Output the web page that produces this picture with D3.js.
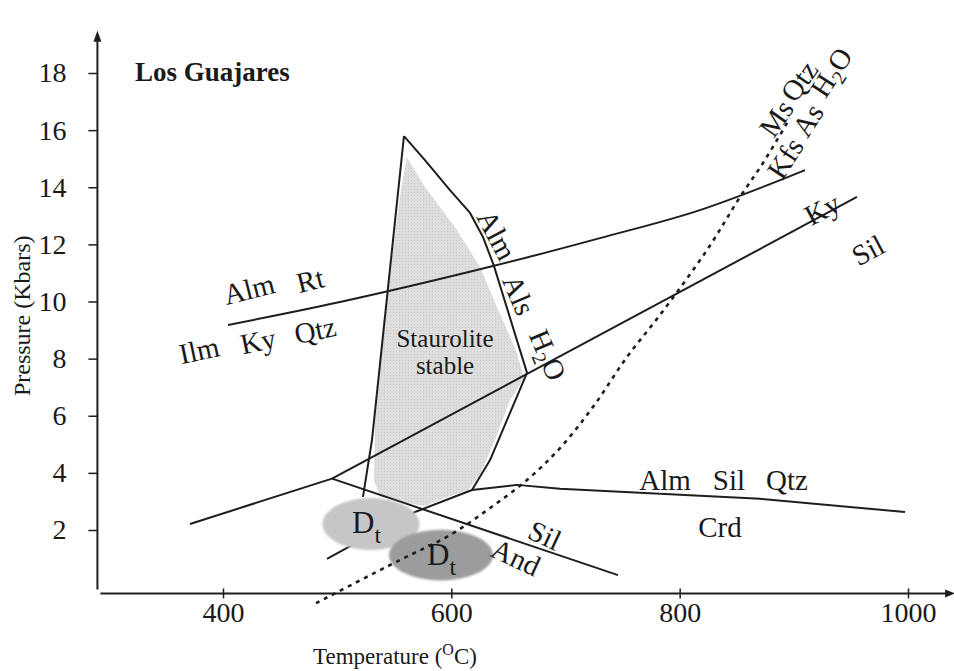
<!DOCTYPE html>
<html>
<head>
<meta charset="utf-8">
<script src="https://cdn.jsdelivr.net/npm/d3@7/dist/d3.min.js"></script>
<style>
  html, body { margin: 0; padding: 0; background: #fff; }
  svg { display: block; }
  text { font-family: "Liberation Serif", "Times New Roman", serif; fill: #1a1a1a; }
</style>
</head>
<body>
<svg id="chart" width="954" height="671"></svg>
<script>
// Axis ticks
const tempTicks = [400, 600, 800, 1000];
const pressureTicks = [2, 4, 6, 8, 10, 12, 14, 16, 18];

// Reaction curves, [T (°C), P (kbar)]
const almRtCurve = [[404.4, 9.18], [502.5, 9.98], [636.5, 11.24], [730.2, 12.22], [817.8, 13.20], [909.8, 14.60]];
const kyAndLine = [[371.1, 2.21], [495.5, 3.80]];
const kySilLine = [[495.5, 3.80], [955.3, 13.66]];
const andSilLine = [[495.5, 3.80], [746.0, 0.42]];
const stLeftLine = [[558.5, 15.79], [530.5, 5.15], [522.6, 3.16]];
const stRightLine = [[558.5, 15.79], [576.9, 14.95], [598.8, 13.90], [616.4, 13.10], [627.7, 12.26], [637.4, 11.24],
                     [666.3, 7.50], [651.4, 6.10], [633.9, 4.45], [618.1, 3.40]];
const crdLine = [[491.1, 0.99], [508.6, 1.37], [568.2, 2.63], [618.1, 3.40], [657.5, 3.58], [695.2, 3.44],
                 [765.2, 3.30], [870.4, 3.09], [997.4, 2.63]];
const msQtzLine = [[481.5, -0.56], [555.0, 0.95], [598.8, 1.82], [633.9, 2.77], [666.3, 3.75], [695.2, 4.87],
                   [724.1, 6.31], [753.9, 8.06], [782.8, 9.53], [823.9, 11.80], [852.9, 13.66], [873.0, 14.85], [896.6, 16.42]];

// Staurolite stability field
const stauroliteField = [[561.0, 15.05], [576.9, 14.01], [605.0, 12.50], [625.1, 11.21], [640.0, 9.81], [657.5, 8.20],
                         [663.7, 7.32], [651.4, 6.55], [638.3, 5.15], [625.1, 3.93], [614.6, 3.40], [594.5, 3.12],
                         [577.0, 2.84], [555.0, 2.98], [537.5, 3.16], [532.1, 3.75], [533.4, 5.85], [541.5, 9.35],
                         [548.7, 11.80], [555.8, 13.90]];

// Deformation-stage P–T estimates: centre T, centre P, half-width T, half-height P
const dtFields = [
  { name: "D", sub: "t", t: 529.6, p: 2.21, dt: 42.5, dp: 0.91, fill: "#c6c6c8", labelT: 513.0, labelP: 1.90 },
  { name: "D", sub: "t", t: 590.9, p: 1.12, dt: 45.5, dp: 0.89, fill: "#9c9c9e", labelT: 578.7, labelP: 0.78 }
];

// Phase labels: text, T, P, rotation (deg)
const phaseLabels = [
  ["Alm", 422.8, 10.44, -14], ["Rt", 476.2, 10.75, -14],
  ["Ilm", 379.0, 8.30, -12], ["Ky", 430.7, 8.62, -12], ["Qtz", 480.6, 9.00, -12],
  ["Alm", 640.0, 12.33, 62], ["Als", 659.3, 10.23, 67], ["H2O", 684.7, 8.13, 67],
  ["Ky", 924.7, 13.24, -28], ["Sil", 964.9, 11.80, -28],
  ["Ms", 884.4, 16.42, -55], ["Qtz", 904.5, 17.72, -55],
  ["Kfs", 892.3, 15.02, -57], ["As", 912.1, 16.35, -57], ["H2O", 932.6, 18.03, -57],
  ["Alm", 787.2, 3.75, 0], ["Sil", 843.2, 3.75, 0], ["Qtz", 894.0, 3.75, 0],
  ["Crd", 835.3, 2.11, 0],
  ["Sil", 682.0, 1.82, 25], ["And", 656.6, 1.05, 25]
];
const fieldLabel = [["Staurolite", 594.5, 8.72], ["stable", 594.5, 7.78]];
const titleText = "Los Guajares";
const titlePos = [322.9, 17.72];

const svg = d3.select("#chart");
const x = d3.scaleLinear().domain([400, 1000]).range([223, 908]);
const y = d3.scaleLinear().domain([2, 18]).range([530, 73]);

const ink = "#1e1e1e";
const line = d3.line().x(d => x(d[0])).y(d => y(d[1]));
const smooth = d3.line().x(d => x(d[0])).y(d => y(d[1])).curve(d3.curveCatmullRom);

const defs = svg.append("defs");
defs.append("filter").attr("id", "soft")
  .append("feGaussianBlur").attr("stdDeviation", 0.9);
const pat = defs.append("pattern").attr("id", "stipple").attr("width", 3).attr("height", 3)
  .attr("patternUnits", "userSpaceOnUse");
pat.append("rect").attr("width", 3).attr("height", 3).attr("fill", "#dedede");
pat.append("rect").attr("width", 1).attr("height", 1).attr("fill", "#c9c9c9");

// Staurolite field shading
svg.append("path")
  .attr("d", line(stauroliteField) + "Z")
  .attr("fill", "url(#stipple)")
  .attr("stroke", "none");

// Reaction lines
const solid = [
  [almRtCurve, smooth], [kyAndLine, line], [kySilLine, line], [andSilLine, line],
  [stLeftLine, line], [stRightLine, line], [crdLine, line]
];
solid.forEach(([pts, gen]) => {
  svg.append("path").attr("d", gen(pts))
    .attr("fill", "none").attr("stroke", ink).attr("stroke-width", 2)
    .attr("stroke-linejoin", "round");
});

// D_t ellipses
dtFields.forEach(f => {
  svg.append("ellipse")
    .attr("cx", x(f.t)).attr("cy", y(f.p))
    .attr("rx", x(f.t + f.dt) - x(f.t))
    .attr("ry", y(f.p - f.dp) - y(f.p))
    .attr("fill", f.fill)
    .attr("filter", "url(#soft)");
});

// Muscovite breakdown (dotted)
svg.append("path").attr("d", smooth(msQtzLine))
  .attr("fill", "none").attr("stroke", ink).attr("stroke-width", 2.6)
  .attr("stroke-dasharray", "4,5");

// D_t labels
dtFields.forEach(f => {
  const t = svg.append("text")
    .attr("x", x(f.labelT)).attr("y", y(f.labelP))
    .attr("font-size", 31);
  t.append("tspan").text(f.name);
  t.append("tspan").attr("font-size", 24).attr("dy", 10).text(f.sub);
});

// Phase labels
phaseLabels.forEach(([txt, t, p, rot]) => {
  const g = svg.append("text")
    .attr("transform", `translate(${x(t)},${y(p)}) rotate(${rot})`)
    .attr("text-anchor", "middle").attr("dy", "0.35em")
    .attr("font-size", 29);
  if (txt === "H2O") {
    g.append("tspan").text("H");
    g.append("tspan").attr("font-size", 20).attr("dy", 6).text("2");
    g.append("tspan").attr("dy", -6).text("O");
  } else {
    g.text(txt);
  }
});

fieldLabel.forEach(([txt, t, p]) => {
  svg.append("text").attr("x", x(t)).attr("y", y(p))
    .attr("text-anchor", "middle").attr("dy", "0.35em")
    .attr("font-size", 25).text(txt);
});

svg.append("text").attr("x", x(titlePos[0])).attr("y", y(titlePos[1]))
  .attr("font-size", 27).attr("font-weight", "bold").text(titleText);

// Axes
const xAxisP = -0.22, yAxisT = 290;
const xAxis = svg.append("g").attr("transform", `translate(0,${y(xAxisP)})`)
  .call(d3.axisBottom(x).tickValues(tempTicks).tickFormat(d3.format("d")).tickSize(5).tickPadding(4));
xAxis.select(".domain").remove();
xAxis.selectAll(".tick line").attr("y1", -5).attr("stroke", ink).attr("stroke-width", 1.5);
xAxis.selectAll(".tick text").attr("font-size", 28).attr("fill", ink)
  .style("font-family", "Liberation Serif, serif");

const yAxis = svg.append("g").attr("transform", `translate(${x(yAxisT)},0)`)
  .call(d3.axisLeft(y).tickValues(pressureTicks).tickSize(9).tickPadding(22));
yAxis.select(".domain").remove();
yAxis.selectAll(".tick line").attr("stroke", ink).attr("stroke-width", 1.5);
yAxis.selectAll(".tick text").attr("font-size", 28).attr("fill", ink)
  .style("font-family", "Liberation Serif, serif");

// Axis lines with arrowheads
const x0 = x(yAxisT), y0 = y(xAxisP);
const xEnd = x(1036), yTop = y(19.2);
svg.append("line").attr("x1", x0 + 3).attr("x2", xEnd).attr("y1", y0).attr("y2", y0)
  .attr("stroke", ink).attr("stroke-width", 2);
svg.append("line").attr("x1", x0).attr("x2", x0).attr("y1", y0 - 4).attr("y2", yTop)
  .attr("stroke", ink).attr("stroke-width", 2);
svg.append("path").attr("d", `M${xEnd + 6},${y0} L${xEnd - 4},${y0 - 4} L${xEnd - 4},${y0 + 4}Z`).attr("fill", ink);
svg.append("path").attr("d", `M${x0},${yTop - 8} L${x0 - 4},${yTop + 3} L${x0 + 4},${yTop + 3}Z`).attr("fill", ink);

// Axis titles
const xt = svg.append("text").attr("x", 395).attr("y", 664)
  .attr("text-anchor", "middle").attr("font-size", 23);
xt.append("tspan").text("Temperature (");
xt.append("tspan").attr("font-size", 16).attr("dy", -9).text("O");
xt.append("tspan").attr("dy", 9).text("C)");

svg.append("text")
  .attr("transform", `translate(30,${y(9.5)}) rotate(-90)`)
  .attr("text-anchor", "middle").attr("font-size", 24)
  .text("Pressure (Kbars)");
</script>
</body>
</html>
